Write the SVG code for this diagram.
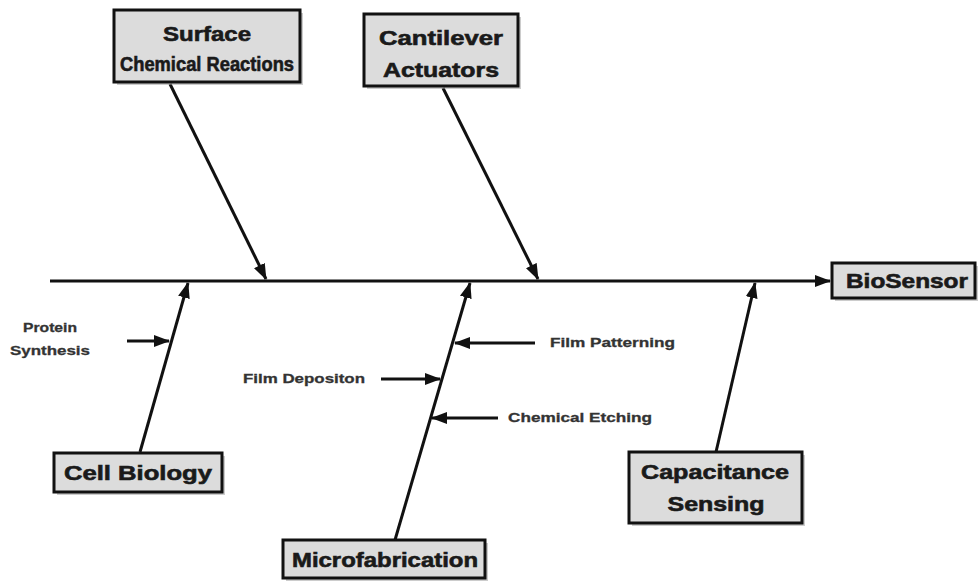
<svg xmlns="http://www.w3.org/2000/svg" width="979" height="581" viewBox="0 0 979 581">
<style>
.box{fill:#dcdcdc;stroke:#111;stroke-width:3}
.sh{fill:#9a9a9a;opacity:0.5}
.big{font-family:"Liberation Sans",Arial,sans-serif;font-weight:bold;font-size:20px;fill:#1a1a1a;stroke:#1a1a1a;stroke-width:0.6;text-anchor:middle}
.small{font-family:"Liberation Sans",Arial,sans-serif;font-weight:bold;font-size:12.5px;fill:#333;stroke:#333;stroke-width:0.3}
.ln{stroke:#111;stroke-width:3;fill:none;marker-end:url(#ah)}
</style>
<defs>
<marker id="ah" viewBox="0 0 16 12" refX="15" refY="6" markerWidth="16" markerHeight="12" markerUnits="userSpaceOnUse" orient="auto">
<path d="M0,0 L16,6 L0,12 Z" fill="#111"/>
</marker>
</defs>
<rect width="979" height="581" fill="#fff"/>
<g id="connectors">
<line class="ln" x1="50" y1="281" x2="830" y2="281"/>
<line class="ln" x1="170" y1="84" x2="266" y2="279"/>
<line class="ln" x1="443" y1="88" x2="538" y2="279"/>
<line class="ln" x1="140" y1="452" x2="188" y2="283"/>
<line class="ln" x1="395" y1="540" x2="470" y2="283"/>
<line class="ln" x1="716" y1="452" x2="755" y2="283"/>
<line class="ln" x1="127" y1="341" x2="169" y2="341"/>
<line class="ln" x1="535" y1="343" x2="455" y2="343"/>
<line class="ln" x1="381" y1="379" x2="440" y2="379"/>
<line class="ln" x1="498" y1="418" x2="432" y2="418"/>
</g>
<g id="surface">
<rect class="sh" x="117" y="13" width="186" height="72"/>
<rect class="box" x="114" y="10" width="186" height="72"/>
<text class="big" x="207" y="41" textLength="88" lengthAdjust="spacingAndGlyphs">Surface</text>
<text class="big" x="207" y="71" textLength="174" lengthAdjust="spacingAndGlyphs">Chemical Reactions</text>
</g>
<g id="cantilever">
<rect class="sh" x="367" y="17" width="154" height="72"/>
<rect class="box" x="364" y="14" width="154" height="72"/>
<text class="big" x="441" y="45" textLength="124" lengthAdjust="spacingAndGlyphs">Cantilever</text>
<text class="big" x="441" y="77" textLength="116" lengthAdjust="spacingAndGlyphs">Actuators</text>
</g>
<g id="biosensor">
<rect class="sh" x="835" y="266" width="143" height="35"/>
<rect class="box" x="832" y="263" width="143" height="35"/>
<text class="big" x="907" y="288" textLength="122" lengthAdjust="spacingAndGlyphs">BioSensor</text>
</g>
<g id="cellbio">
<rect class="sh" x="57" y="456" width="168" height="39"/>
<rect class="box" x="54" y="453" width="168" height="39"/>
<text class="big" x="138" y="480" textLength="148" lengthAdjust="spacingAndGlyphs">Cell Biology</text>
</g>
<g id="capacitance">
<rect class="sh" x="632" y="455" width="173" height="71"/>
<rect class="box" x="629" y="452" width="173" height="71"/>
<text class="big" x="715" y="479" textLength="148" lengthAdjust="spacingAndGlyphs">Capacitance</text>
<text class="big" x="716" y="511" textLength="97" lengthAdjust="spacingAndGlyphs">Sensing</text>
</g>
<g id="microfab">
<rect class="sh" x="286" y="543" width="202" height="38"/>
<rect class="box" x="283" y="540" width="202" height="38"/>
<text class="big" x="385" y="567" textLength="186" lengthAdjust="spacingAndGlyphs">Microfabrication</text>
</g>
<g id="labels">
<text class="small" x="50" y="332" text-anchor="middle" textLength="54" lengthAdjust="spacingAndGlyphs">Protein</text>
<text class="small" x="50" y="355" text-anchor="middle" textLength="80" lengthAdjust="spacingAndGlyphs">Synthesis</text>
<text class="small" x="550" y="347" textLength="125" lengthAdjust="spacingAndGlyphs">Film Patterning</text>
<text class="small" x="243" y="383" textLength="122" lengthAdjust="spacingAndGlyphs">Film Depositon</text>
<text class="small" x="508" y="422" textLength="144" lengthAdjust="spacingAndGlyphs">Chemical Etching</text>
</g>
</svg>
